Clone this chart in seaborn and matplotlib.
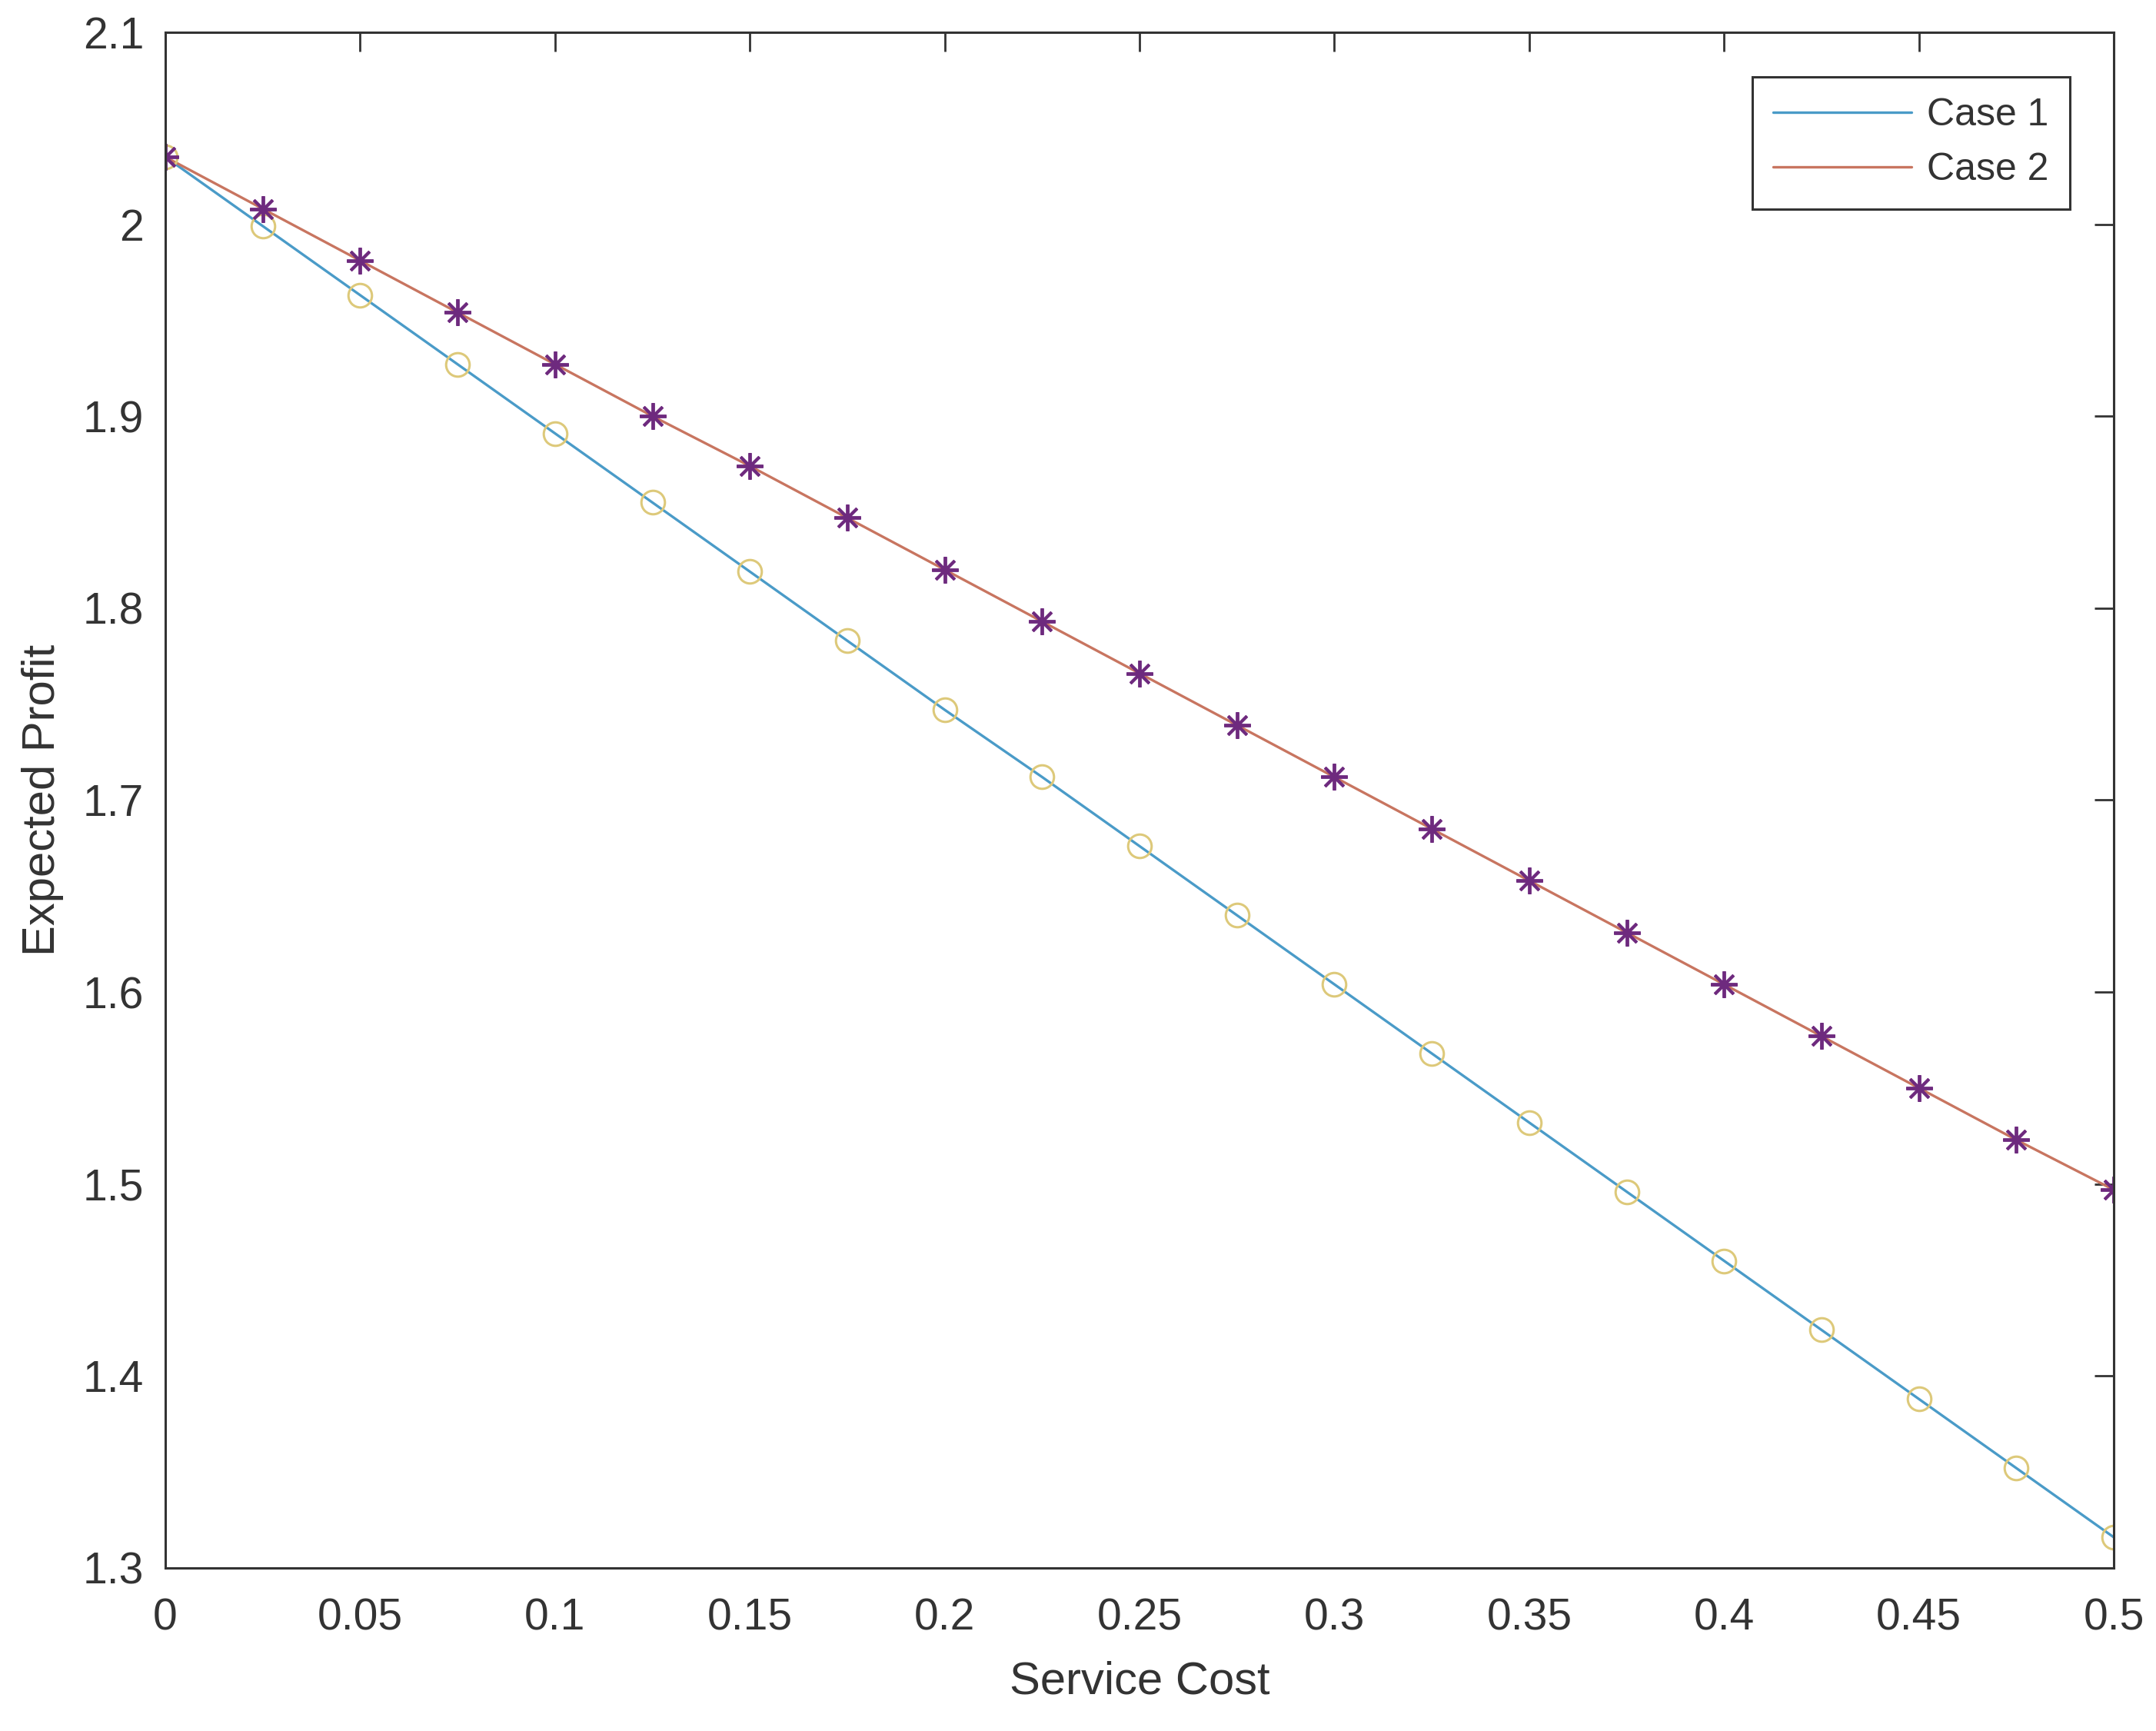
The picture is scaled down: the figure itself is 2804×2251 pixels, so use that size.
import numpy as np
import pandas as pd
import matplotlib
matplotlib.use("Agg")
import matplotlib.pyplot as plt
import seaborn as sns

# data
service_cost = [0, 0.025, 0.05, 0.075, 0.1, 0.125, 0.15, 0.175, 0.2, 0.225, 0.25,
                0.275, 0.3, 0.325, 0.35, 0.375, 0.4, 0.425, 0.45, 0.475, 0.5]
case1 = [2.035, 1.999, 1.963, 1.927, 1.891, 1.855, 1.819, 1.783, 1.747, 1.712, 1.676,
         1.640, 1.604, 1.568, 1.532, 1.496, 1.460, 1.424, 1.388, 1.352, 1.316]
case2 = [2.035, 2.008, 1.981, 1.954, 1.927, 1.900, 1.874, 1.847, 1.820, 1.793, 1.766,
         1.739, 1.712, 1.685, 1.658, 1.631, 1.604, 1.577, 1.550, 1.523, 1.497]
series_names = ["Case 1", "Case 2"]
x_ticks = [0, 0.05, 0.1, 0.15, 0.2, 0.25, 0.3, 0.35, 0.4, 0.45, 0.5]
x_tick_labels = ["0", "0.05", "0.1", "0.15", "0.2", "0.25", "0.3", "0.35", "0.4", "0.45", "0.5"]
y_ticks = [1.3, 1.4, 1.5, 1.6, 1.7, 1.8, 1.9, 2.0, 2.1]
y_tick_labels = ["1.3", "1.4", "1.5", "1.6", "1.7", "1.8", "1.9", "2", "2.1"]

df = pd.DataFrame({
    "Service Cost": service_cost * 2,
    "Expected Profit": case1 + case2,
    "case": [series_names[0]] * len(case1) + [series_names[1]] * len(case2),
})

sns.set_theme(style="white")
plt.rcParams["font.family"] = ["Liberation Sans", "DejaVu Sans"]
text_col = "#333333"
plt.rcParams["text.color"] = text_col
plt.rcParams["axes.labelcolor"] = text_col
plt.rcParams["xtick.color"] = text_col
plt.rcParams["ytick.color"] = text_col

fig = plt.figure(figsize=(14.02, 11.255), dpi=200)
ax = fig.add_axes([0.0767, 0.0942, 0.9037, 0.8872])

line_cols = {"Case 1": "#4a9bc8", "Case 2": "#c87560"}
sns.lineplot(data=df, x="Service Cost", y="Expected Profit", hue="case",
             palette=line_cols, linewidth=1.2, ax=ax, legend=True)

# marker overlays (not in legend)
ax.plot(service_cost, case1, linestyle="none", marker="o", markersize=11,
        markerfacecolor="none", markeredgecolor="#ddc97a", markeredgewidth=1.1)
ax.plot(service_cost, case2, linestyle="none", marker=(8, 2, 0), markersize=12.5,
        color="#6e2a7e", markeredgewidth=1.4)

ax.set_xlim(0, 0.5)
ax.set_ylim(1.3, 2.1)
ax.set_xticks(x_ticks)
ax.set_xticklabels(x_tick_labels)
ax.set_yticks(y_ticks)
ax.set_yticklabels(y_tick_labels)
ax.tick_params(direction="in", length=9, width=1.0, labelsize=20.5,
               top=True, right=True, colors=text_col)
ax.tick_params(axis="x", pad=14)
ax.tick_params(axis="y", pad=10)

for sp in ax.spines.values():
    sp.set_visible(True)
    sp.set_color(text_col)
    sp.set_linewidth(1.1)

ax.set_xlabel("Service Cost", fontsize=21.5, va="center")
ax.set_ylabel("Expected Profit", fontsize=21.5, va="center")
ax.xaxis.set_label_coords(0.5, -0.074)
ax.yaxis.set_label_coords(-0.063, 0.5)

handles, labels = ax.get_legend_handles_labels()
leg = ax.legend(handles[:2], labels[:2], loc="upper right",
                bbox_to_anchor=(0.9775, 0.971), fontsize=18,
                fancybox=False, framealpha=1, edgecolor=text_col,
                handlelength=3.6, handletextpad=0.4, borderpad=0.55,
                labelspacing=0.5, borderaxespad=0)
leg.get_frame().set_linewidth(1.1)

fig.savefig("out.png", dpi=200)
